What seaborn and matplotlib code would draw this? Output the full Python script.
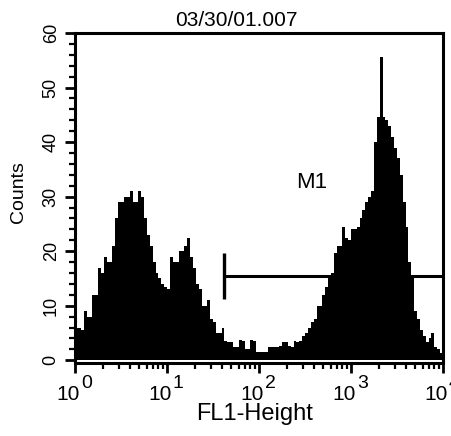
import numpy as np
import matplotlib
matplotlib.use("Agg")
import matplotlib.pyplot as plt
from matplotlib import transforms
from matplotlib.ticker import MultipleLocator, LogLocator, NullFormatter
import seaborn as sns

# FL1 histogram: 128 log-spaced channels spanning 10^0 .. 10^4
counts = [
    6, 6, 5.5, 9, 8, 8, 12, 12, 17, 16,
    19, 18, 18, 21, 26, 29, 29, 30, 30, 31,
    29, 29, 31, 30, 26, 23, 21, 18, 16, 15,
    14, 13.5, 13, 19, 18, 18, 20, 20, 21, 22.5,
    19, 17, 14, 13, 10, 10, 11, 7.5, 7, 5,
    5, 6, 3.5, 3.3, 3.3, 2.4, 2.4, 3.7, 3.5, 2,
    2, 3.7, 3.5, 1.5, 1.5, 1.5, 1.5, 2.4, 2.4, 2.4,
    2.4, 2.6, 3.3, 3.3, 2.6, 2.4, 3.5, 3.3, 3.5, 4.5,
    5, 6, 7, 7.5, 10, 10, 12, 13.5, 15, 16,
    19.6, 21, 21, 24.4, 22.5, 22, 24, 24, 24.4, 26,
    27.5, 29, 30, 31, 40, 44.6, 55.6, 44.6, 44, 43,
    41, 39, 37, 34, 29, 24.4, 18, 15, 9, 7.5,
    5.5, 4.5, 3.3, 4, 5, 2.4, 2, 1.3,
]
n_channels = len(counts)
log_edges = np.linspace(0, 4, n_channels + 1)
channel_centers = 10 ** ((log_edges[:-1] + log_edges[1:]) / 2)

# M1 marker gate
m1_start = 42
m1_end = 10000
m1_level = 15.4
m1_half_height = 4.2
m1_label = "M1"
m1_label_pos = (370, 32.5)

title = "03/30/01.007"
x_label = "FL1-Height"
y_label = "Counts"
y_ticks = [0, 10, 20, 30, 40, 50, 60]
x_exponents = ["0", "1", "2", "3", "4"]

sns.set_style("ticks")
plt.rcParams["font.family"] = ["Liberation Sans", "DejaVu Sans"]
plt.rcParams["text.color"] = "black"
plt.rcParams["xtick.color"] = "black"
plt.rcParams["ytick.color"] = "black"
plt.rcParams["axes.labelcolor"] = "black"

W, H = 452, 436
fig = plt.figure(figsize=(W / 100, H / 100), dpi=100)
ax = fig.add_axes([75 / W, 1 - 363 / H, (443 - 75) / W, (363 - 33) / H])

sns.histplot(
    x=channel_centers, weights=counts, bins=n_channels, binrange=(0, 4),
    log_scale=True, element="bars", shrink=1, fill=True, color="black",
    alpha=1, linewidth=0, antialiased=False, ax=ax,
)

# M1 gate bar
ax.plot([m1_start, m1_end], [m1_level, m1_level], color="black", lw=2.2,
        solid_capstyle="butt", zorder=5)
ax.plot([m1_start, m1_start], [m1_level - m1_half_height, m1_level + m1_half_height],
        color="black", lw=2.4, solid_capstyle="butt", zorder=5)
ax.text(*m1_label_pos, m1_label, fontsize=16, ha="center", va="center")

ax.set_xlim(1, 1e4)
ax.set_ylim(-0.5, 60)

for s in ax.spines.values():
    s.set_visible(True)
    s.set_linewidth(2.2)
    s.set_color("black")
    s.set_zorder(6)

ax.xaxis.set_major_locator(LogLocator(base=10, numticks=10))
ax.xaxis.set_minor_locator(LogLocator(base=10, subs=np.arange(2, 10), numticks=20))
ax.xaxis.set_minor_formatter(NullFormatter())
ax.set_xticks([10 ** int(e) for e in x_exponents])
ax.set_xticklabels([""] * len(x_exponents))

ax.set_yticks(y_ticks)
ax.set_yticklabels([str(v) for v in y_ticks], rotation=90, va="center", fontsize=13)
ax.yaxis.set_minor_locator(MultipleLocator(2))

ax.tick_params(axis="both", which="major", direction="out", length=7, width=2,
               color="black", pad=4)
ax.tick_params(axis="both", which="minor", direction="out", length=4, width=1.6,
               color="black")
ax.set_xlabel("")
ax.set_ylabel("")

# decade labels with full-size raised exponents
base_tr = ax.get_xaxis_transform()
for e in x_exponents:
    xv = 10 ** int(e)
    t_base = transforms.offset_copy(base_tr, fig=fig, x=5, y=-32, units="dots")
    t_exp = transforms.offset_copy(base_tr, fig=fig, x=6, y=-21, units="dots")
    ax.text(xv, 0, "10", transform=t_base, ha="right", va="center", fontsize=15,
            clip_on=False)
    ax.text(xv, 0, e, transform=t_exp, ha="left", va="center", fontsize=14,
            clip_on=False)

fig.text(236 / W, 1 - 20 / H, title, ha="center", va="center", fontsize=15)
fig.text(255 / W, 1 - 414 / H, x_label, ha="center", va="center", fontsize=17)
fig.text(19 / W, 1 - 192 / H, y_label, ha="center", va="center", fontsize=14,
         rotation=90)

fig.savefig("out.png", dpi=100)
